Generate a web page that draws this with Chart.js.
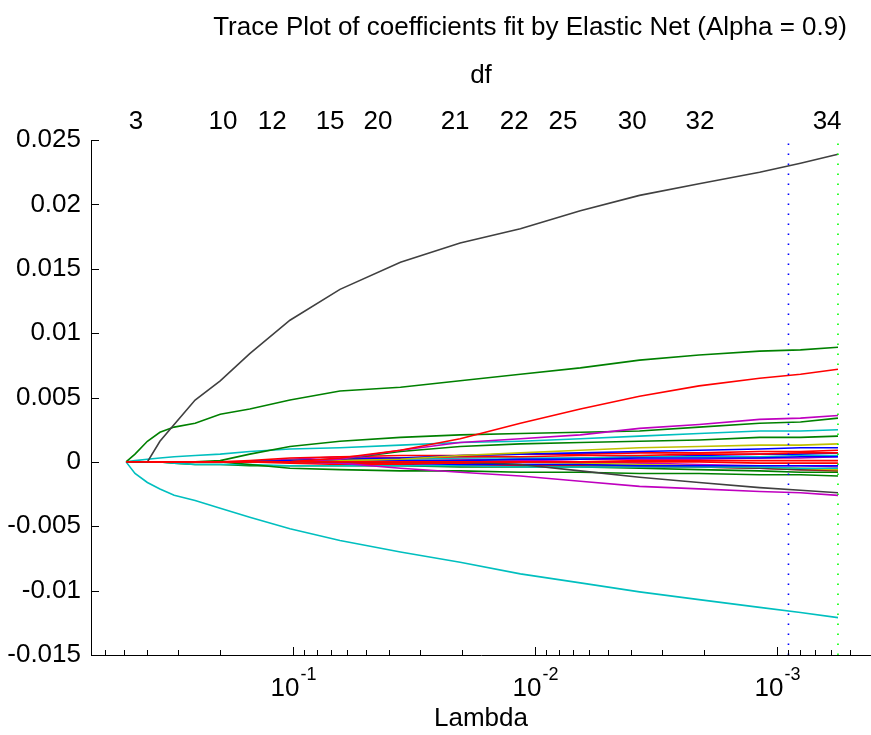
<!DOCTYPE html>
<html>
<head>
<meta charset="utf-8">
<title>Elastic Net trace plot</title>
<script src="https://cdn.jsdelivr.net/npm/chart.js@4.4.1/dist/chart.umd.min.js"></script>
<style>
  html, body { margin: 0; padding: 0; background: #fff; }
  canvas { display: block; }
</style>
</head>
<body>
<canvas id="chart" width="871" height="735"></canvas>
<script>
// lambda path (largest first), shared by every coefficient trace
var lambda = [0.49, 0.45, 0.40, 0.355, 0.31, 0.254, 0.20, 0.151, 0.103, 0.064, 0.036, 0.0204, 0.0115, 0.0065, 0.0037, 0.0021, 0.00118, 0.0008, 0.00056];

// coefficient traces along the path
var red0     = [0, 0, 0, 0, 0, 0, 0, 0, 0, 0, 0, 0, 0, 0, 0, 0, -0.0001, -0.0001, -0.0001];
var gray1    = [0, 0, 0, 0.0016, 0.0029, 0.0048, 0.0063, 0.0084, 0.0110, 0.0134, 0.0155, 0.0170, 0.0181, 0.0195, 0.0207, 0.0216, 0.0225, 0.0232, 0.0239];
var green1   = [0, 0.0006, 0.0016, 0.0023, 0.0027, 0.0030, 0.0037, 0.0041, 0.0048, 0.0055, 0.0058, 0.0063, 0.0068, 0.0073, 0.0079, 0.0083, 0.0086, 0.0087, 0.0089];
var cyan1    = [0, -0.0009, -0.0016, -0.0021, -0.0026, -0.0030, -0.0036, -0.0043, -0.0052, -0.0061, -0.0070, -0.0078, -0.0087, -0.0094, -0.0101, -0.0107, -0.0113, -0.0117, -0.0121];
var red1     = [0, 0, 0, 0, 0, 0, 0, 0, 0, 0.0003, 0.0009, 0.0018, 0.0030, 0.0041, 0.0051, 0.0059, 0.0065, 0.0068, 0.0072];
var magenta1 = [0, 0, 0, 0, 0, 0, 0, 0, 0, 0.0002, 0.0009, 0.0015, 0.0018, 0.0021, 0.0026, 0.0029, 0.0033, 0.0034, 0.0036];
var green2   = [0, 0, 0, 0, 0, 0, 0.0001, 0.0006, 0.0012, 0.0016, 0.0019, 0.0021, 0.0022, 0.0023, 0.0024, 0.0027, 0.0030, 0.0031, 0.0034];
var cyan2    = [0, 0.0001, 0.0002, 0.0003, 0.0004, 0.0005, 0.0006, 0.0008, 0.0010, 0.0011, 0.0013, 0.0015, 0.0016, 0.0018, 0.0020, 0.0022, 0.0024, 0.0024, 0.0025];
var green3   = [0, 0, 0, 0, 0, 0, 0, 0, 0, 0.0002, 0.0008, 0.0012, 0.0014, 0.0015, 0.0016, 0.0017, 0.0019, 0.0019, 0.0020];
var yellow1  = [0, 0, 0, 0, 0, 0, 0, 0, 0, 0.0001, 0.0002, 0.0005, 0.0007, 0.0009, 0.0011, 0.0012, 0.0013, 0.0013, 0.0014];
var gray2    = [0, 0, 0, 0, 0, 0, 0, 0, 0, 0, 0, 0, -0.0002, -0.0007, -0.0012, -0.0016, -0.0020, -0.0022, -0.0024];
var magenta2 = [0, 0, 0, 0, 0, 0, 0, 0, 0, -0.0001, -0.0005, -0.0008, -0.0011, -0.0015, -0.0019, -0.0021, -0.0023, -0.0024, -0.0026];
var green4   = [0, 0, 0, 0, 0, 0, 0, -0.0002, -0.0005, -0.0006, -0.0007, -0.0007, -0.0008, -0.0008, -0.0009, -0.0009, -0.0010, -0.0010, -0.0011];
var blue1    = [0, 0, 0, 0, 0, 0, 0, 0, 0.0001, 0.0002, 0.0003, 0.0005, 0.0006, 0.0007, 0.0008, 0.0009, 0.0010, 0.0011, 0.0011];
var red2     = [0, 0, 0, 0, 0, 0, 0, 0.0001, 0.0003, 0.0004, 0.0005, 0.0005, 0.0006, 0.0006, 0.0007, 0.0007, 0.0008, 0.0008, 0.0009];
var red3     = [0, 0, 0, 0, 0, 0, 0, 0, 0.0001, 0.0002, 0.0003, 0.0004, 0.0004, 0.0005, 0.0005, 0.0006, 0.0006, 0.0007, 0.0007];
var blue2    = [0, 0, 0, 0, 0, 0, 0, 0, 0, 0, 0.0001, 0.0001, 0.0002, 0.0002, 0.0003, 0.0003, 0.0003, 0.0004, 0.0004];
var cyan3    = [0, 0, 0, 0, 0, 0, 0, 0, 0.0001, 0.0002, 0.0002, 0.0003, 0.0003, 0.0003, 0.0004, 0.0004, 0.0004, 0.0005, 0.0005];
var red4     = [0, 0, 0, 0, 0, 0, 0, 0, 0, -0.0001, -0.0001, -0.0001, 0, 0, 0.0001, 0.0001, 0.0001, 0.0001, 0.0001];
var blue3    = [0, 0, 0, 0, 0, 0, 0, 0, 0, 0, -0.0001, -0.0002, -0.0002, -0.0002, -0.0003, -0.0003, -0.0003, -0.0003, -0.0003];
var cyan4    = [0, 0, 0, 0, -0.0001, -0.0002, -0.0002, -0.0002, -0.0003, -0.0003, -0.0003, -0.0003, -0.0004, -0.0004, -0.0004, -0.0004, -0.0004, -0.0005, -0.0005];
var yellow2  = [0, 0, 0, 0, 0, 0, 0, 0, 0.0001, 0.0002, 0.0001, 0.0001, 0, -0.0001, -0.0002, -0.0003, -0.0004, -0.0005, -0.0006];
var green5   = [0, 0, 0, 0, -0.0001, -0.0002, -0.0002, -0.0003, -0.0003, -0.0003, -0.0003, -0.0004, -0.0004, -0.0004, -0.0005, -0.0006, -0.0007, -0.0008, -0.0008];
var magenta3 = [0, 0, 0, 0, 0, 0, 0, 0, 0.0002, 0.0004, 0.0003, 0.0002, 0.0001, 0, -0.0001, -0.0002, -0.0003, -0.0003, -0.0004];
var gray3    = [0, 0, 0, 0, 0, 0, 0, 0, 0, 0, -0.0001, -0.0001, -0.0002, -0.0002, -0.0003, -0.0004, -0.0005, -0.0006, -0.0006];
var blue4    = [0, 0, 0, 0, 0, 0, 0, 0, 0, 0, 0, 0.0001, 0.0002, 0.0003, 0.0004, 0.0005, 0.0006, 0.0006, 0.0007];
var red5     = [0, 0, 0, 0, 0, 0, 0, 0, -0.0001, -0.0002, -0.0002, -0.0003, -0.0003, -0.0003, -0.0004, -0.0004, -0.0005, -0.0006, -0.0007];
var magenta4 = [0, 0, 0, 0, 0, 0, 0, 0, 0, 0, 0, 0.0001, 0.0001, 0.0002, 0.0002, 0.0002, 0.0003, 0.0003, 0.0004];

// degrees of freedom shown along the top
var dfLambda = [0.446, 0.195, 0.122, 0.0703, 0.0446, 0.0214, 0.0122, 0.00766, 0.00397, 0.00208, 0.000621];
var dfLabels = ['3', '10', '12', '15', '20', '21', '22', '25', '30', '32', '34'];

// cross-validation cutoffs
var lambdaMinMSE = 0.00056;
var lambda1SE = 0.000897;

// axes
var yTicks = [-0.015, -0.01, -0.005, 0, 0.005, 0.01, 0.015, 0.02, 0.025];
var decadeTicks = [0.1, 0.01, 0.001];
var decadeExps = ['-1', '-2', '-3'];
var lambdaAxisMin = 0.000409;
var lambdaAxisMax = 0.684;

var FONT = '"Liberation Sans", Arial, Helvetica, sans-serif';

var C_BLUE = '#0000ff', C_GREEN = '#008000', C_RED = '#ff0000', C_CYAN = '#00bfbf',
    C_MAGENTA = '#bf00bf', C_YELLOW = '#bfbf00', C_GRAY = '#404040';

// first entry ends up on top
var traceList = [
    [red0, C_RED],
    [gray1, C_GRAY], [green1, C_GREEN], [cyan1, C_CYAN], [red1, C_RED],
    [magenta1, C_MAGENTA], [green2, C_GREEN], [cyan2, C_CYAN], [green3, C_GREEN],
    [yellow1, C_YELLOW], [gray2, C_GRAY], [magenta2, C_MAGENTA], [green4, C_GREEN],
    [blue1, C_BLUE], [red2, C_RED], [red3, C_RED], [blue2, C_BLUE], [cyan3, C_CYAN],
    [red4, C_RED], [blue3, C_BLUE], [cyan4, C_CYAN], [yellow2, C_YELLOW],
    [green5, C_GREEN], [magenta3, C_MAGENTA], [gray3, C_GRAY], [blue4, C_BLUE],
    [red5, C_RED], [magenta4, C_MAGENTA]
];

function cutoffLine(lam, color){
    return {
        data: [{x: lam, y: yTicks[0]}, {x: lam, y: yTicks[yTicks.length - 1]}],
        borderColor: color,
        borderWidth: 1.6,
        borderDash: [1.6, 8.4],
        pointRadius: 0,
        fill: false
    };
}

var datasets = [cutoffLine(lambda1SE, '#0000ff'), cutoffLine(lambdaMinMSE, '#00ff00')];
for (var t = 0; t < traceList.length; t++){
    var vals = traceList[t][0];
    var pts = [];
    for (var i = 0; i < lambda.length; i++){
        pts.push({x: lambda[i], y: vals[i]});
    }
    datasets.push({
        data: pts,
        borderColor: traceList[t][1],
        borderWidth: 1.6,
        pointRadius: 0,
        tension: 0,
        fill: false
    });
}

// inward tick marks, decade labels with exponents, and the title
var traceDecor = {
    id: 'traceDecor',
    afterDraw: function(chart){
        var ctx = chart.ctx;
        var area = chart.chartArea;
        var xs = chart.scales.x, ys = chart.scales.y;
        ctx.save();
        ctx.strokeStyle = '#000';
        ctx.lineWidth = 1;
        ctx.beginPath();
        yTicks.forEach(function(v){
            var py = Math.round(ys.getPixelForValue(v)) + 0.5;
            ctx.moveTo(area.left, py);
            ctx.lineTo(area.left + 8, py);
        });
        for (var e = -4; e <= 0; e++){
            for (var m = 1; m <= 9; m++){
                var v = m * Math.pow(10, e);
                if (v < lambdaAxisMin || v > lambdaAxisMax) continue;
                var px = Math.round(xs.getPixelForValue(v)) + 0.5;
                ctx.moveTo(px, area.bottom);
                ctx.lineTo(px, area.bottom - (m === 1 ? 8 : 5));
            }
        }
        ctx.stroke();

        ctx.fillStyle = '#000';
        ctx.textBaseline = 'alphabetic';
        ctx.textAlign = 'left';
        decadeTicks.forEach(function(v, k){
            ctx.font = '26px ' + FONT;
            var wBase = ctx.measureText('10').width;
            ctx.font = '18px ' + FONT;
            var wExp = ctx.measureText(decadeExps[k]).width;
            var x0 = xs.getPixelForValue(v) - (wBase + wExp) / 2;
            ctx.font = '26px ' + FONT;
            ctx.fillText('10', x0, area.bottom + 41);
            ctx.font = '18px ' + FONT;
            ctx.fillText(decadeExps[k], x0 + wBase + 1, area.bottom + 25);
        });

        ctx.font = '26px ' + FONT;
        ctx.textAlign = 'center';
        ctx.textBaseline = 'middle';
        ctx.fillText('Trace Plot of coefficients fit by Elastic Net (Alpha = 0.9)', 530, 28);
        ctx.restore();
    }
};

Chart.defaults.font.family = FONT;
Chart.defaults.font.size = 26;
Chart.defaults.color = '#000';

var config = {
    type: 'line',
    data: { datasets: datasets },
    plugins: [traceDecor],
    options: {
        responsive: false,
        animation: false,
        devicePixelRatio: 1,
        layout: { padding: 0 },
        plugins: {
            legend: { display: false },
            tooltip: { enabled: false },
            title: { display: false }
        },
        scales: {
            x: {
                type: 'logarithmic',
                position: 'bottom',
                reverse: true,
                min: lambdaAxisMin,
                max: lambdaAxisMax,
                grid: { display: false, drawTicks: false },
                border: { display: true, color: '#000', width: 1 },
                ticks: { display: false },
                title: {
                    display: true,
                    text: 'Lambda',
                    font: { size: 26 },
                    padding: { top: 0, bottom: 1 }
                },
                afterFit: function(scale){ scale.height = 80; }
            },
            df: {
                type: 'logarithmic',
                position: 'top',
                reverse: true,
                min: lambdaAxisMin,
                max: lambdaAxisMax,
                grid: { display: false, drawTicks: false },
                border: { display: false },
                afterBuildTicks: function(scale){
                    scale.ticks = dfLambda.map(function(v){ return {value: v}; });
                },
                ticks: {
                    autoSkip: false,
                    maxRotation: 0,
                    padding: 3,
                    callback: function(value, index){ return dfLabels[index]; }
                },
                title: {
                    display: true,
                    text: 'df',
                    font: { size: 26 },
                    padding: { top: 60, bottom: 0 }
                },
                afterFit: function(scale){ scale.height = 140; }
            },
            y: {
                type: 'linear',
                position: 'left',
                min: yTicks[0],
                max: yTicks[yTicks.length - 1],
                grid: { display: false, drawTicks: false },
                border: { display: true, color: '#000', width: 1 },
                afterBuildTicks: function(scale){
                    scale.ticks = yTicks.map(function(v){ return {value: v}; });
                },
                ticks: {
                    padding: 10,
                    callback: function(value){ return String(parseFloat(value.toFixed(3))); }
                },
                afterFit: function(scale){ scale.width = 91; }
            }
        }
    }
};

var ctx = document.getElementById('chart').getContext('2d');
var traceChart = new Chart(ctx, config);
</script>
</body>
</html>
